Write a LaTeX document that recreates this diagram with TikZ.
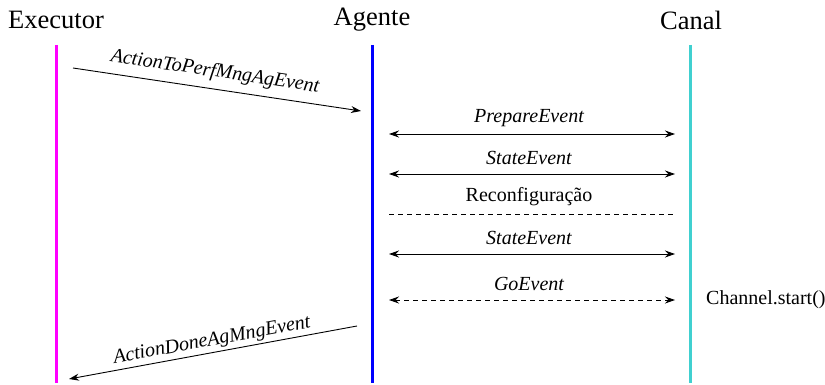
\documentclass[tikz,border=0pt]{standalone}
\usepackage{fontspec}
\setmainfont{Liberation Serif}
\usetikzlibrary{arrows.meta}
\definecolor{lifemag}{RGB}{255,0,255}
\definecolor{lifeblue}{RGB}{0,0,255}
\definecolor{lifecyan}{RGB}{64,208,208}
\begin{document}
\begin{tikzpicture}[x=1pt,y=-1pt,
  title/.style={font=\fontsize{26.5}{28}\selectfont, inner sep=0pt},
  lbl/.style={font=\fontsize{20}{22}\selectfont\itshape, inner sep=0pt},
  plainlbl/.style={font=\fontsize{20}{22}\selectfont, inner sep=0pt},
  life/.style={line width=3pt},
  msg/.style={line width=0.9pt, -{Stealth[length=10pt,width=7pt]}},
  bimsg/.style={line width=0.9pt, {Stealth[length=10pt,width=7pt]}-{Stealth[length=10pt,width=7pt]}}
]
\useasboundingbox (0,0) rectangle (825,385);
% titles
\node[title] (exe) at (56,20) {Executor};
\node[title] (age) at (372,20) {Agente};
\node[title] (can) at (691,20) {Canal};
% lifelines
\coordinate (e1) at (56,45); \coordinate (e2) at (56,383);
\coordinate (a1) at (372,45); \coordinate (a2) at (372,383);
\coordinate (c1) at (690,45); \coordinate (c2) at (690,383);
\draw[life, lifemag] (e1) -- (e2);
\draw[life, lifeblue] (a1) -- (a2);
\draw[life, lifecyan] (c1) -- (c2);
% message 1
\coordinate (m1s) at (73,68); \coordinate (m1e) at (361,111);
\draw[msg] (m1s) -- (m1e);
\node[lbl, rotate=-8.5] (l1) at (215,72) {ActionToPerfMngAgEvent};
% PrepareEvent
\coordinate (p1) at (389,134); \coordinate (p2) at (675,134);
\draw[bimsg] (p1) -- (p2);
\node[lbl] (l2) at (529,118) {PrepareEvent};
% StateEvent
\coordinate (s1) at (389,174); \coordinate (s2) at (675,174);
\draw[bimsg] (s1) -- (s2);
\node[lbl] (l3) at (529,158) {StateEvent};
% Reconfiguracao
\coordinate (r1) at (389,214); \coordinate (r2) at (675,214);
\draw[line width=0.9pt, dash pattern=on 5pt off 4pt] (r1) -- (r2);
\node[plainlbl] (l4) at (529,197) {Reconfiguração};
% StateEvent 2
\coordinate (t1) at (389,254); \coordinate (t2) at (675,254);
\draw[bimsg] (t1) -- (t2);
\node[lbl] (l5) at (529,238) {StateEvent};
% GoEvent
\coordinate (g1) at (389,300); \coordinate (g2) at (675,300);
\draw[bimsg, dash pattern=on 5pt off 4pt] (g1) -- (g2);
\node[lbl] (l6) at (529,284) {GoEvent};
\node[plainlbl, anchor=west] (ch) at (706,300) {Channel.start()};
% message last
\coordinate (d1) at (357,326); \coordinate (d2) at (69,379);
\draw[msg] (d1) -- (d2);
\node[lbl, rotate=10.5] (l7) at (212,341) {ActionDoneAgMngEvent};
\end{tikzpicture}
\end{document}
